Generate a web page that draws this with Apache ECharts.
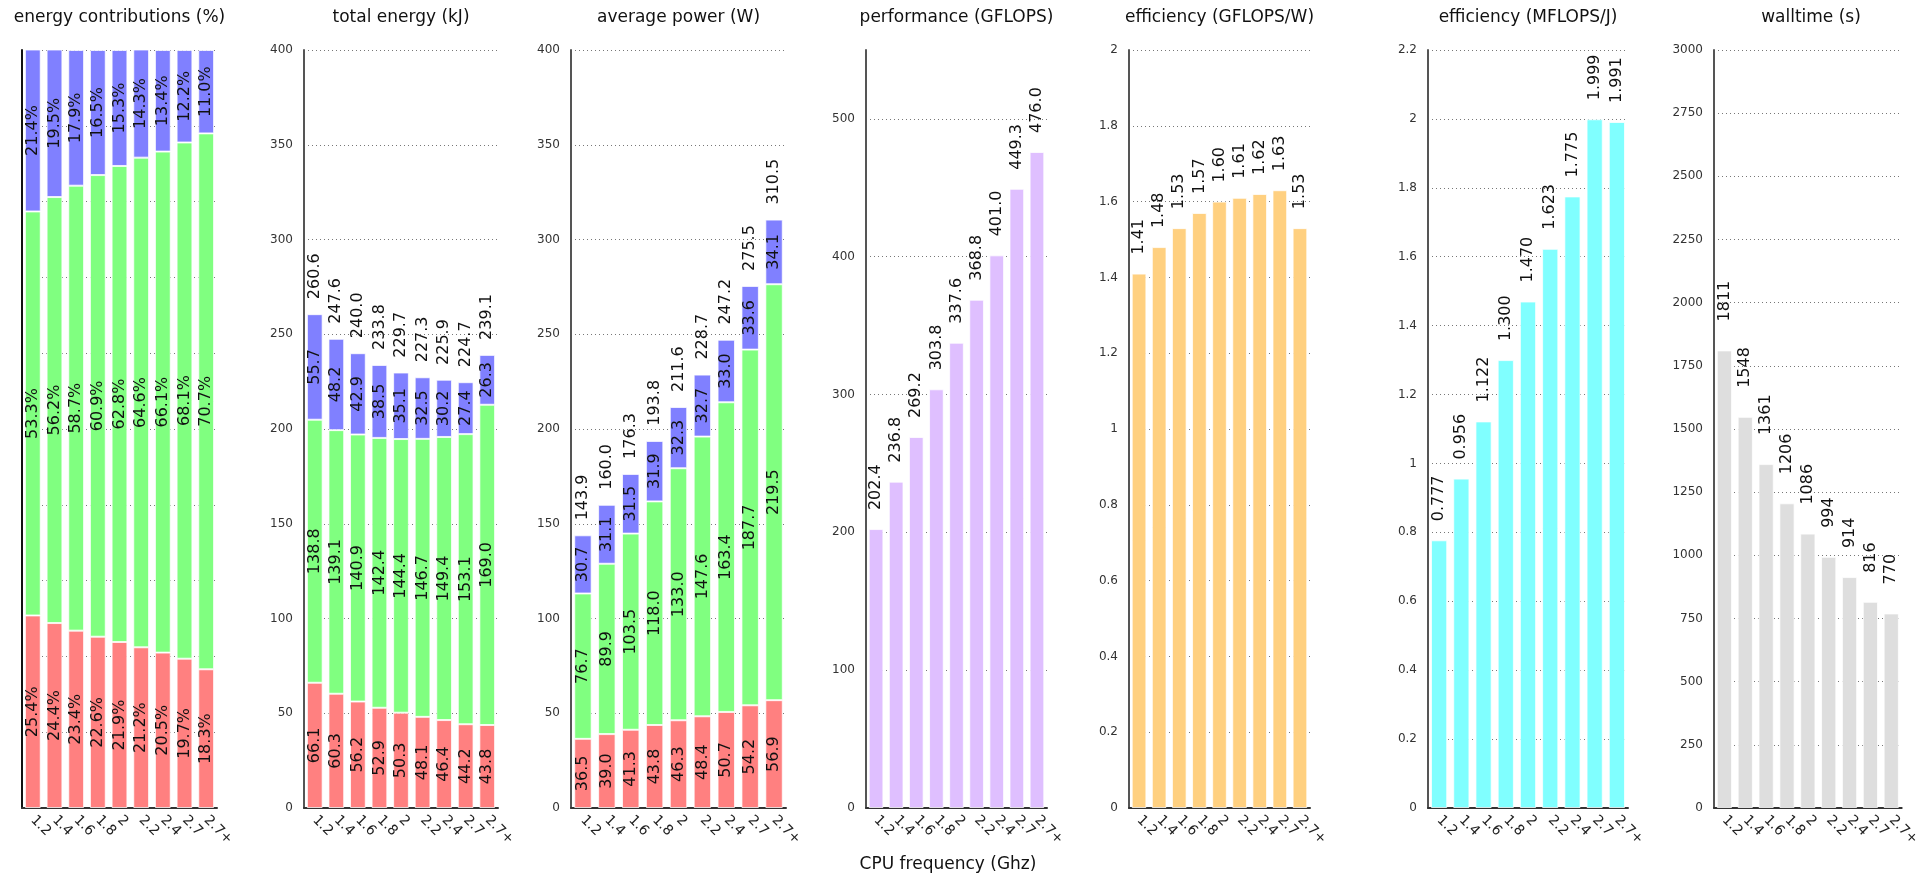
<!DOCTYPE html>
<html>
<head>
<meta charset="utf-8">
<title>CPU frequency sweep</title>
<script src="https://cdn.jsdelivr.net/npm/echarts@6/dist/echarts.min.js"></script>
<style>
    html, body { margin: 0; padding: 0; background: #fff; }
    #container { width: 1922px; height: 875px; }
</style>
</head>
<body>
<div id="container"></div>
<script>
// data
var freqs = ['1.2', '1.4', '1.6', '1.8', '2', '2.2', '2.4', '2.7', '2.7+'];

var pctLow = [25.4, 24.4, 23.4, 22.6, 21.9, 21.2, 20.5, 19.7, 18.3];
var pctMid = [53.3, 56.2, 58.7, 60.9, 62.8, 64.6, 66.1, 68.1, 70.7];
var pctTop = [21.4, 19.5, 17.9, 16.5, 15.3, 14.3, 13.4, 12.2, 11.0];

var energyLow = [66.1, 60.3, 56.2, 52.9, 50.3, 48.1, 46.4, 44.2, 43.8];
var energyMid = [138.8, 139.1, 140.9, 142.4, 144.4, 146.7, 149.4, 153.1, 169.0];
var energyTop = [55.7, 48.2, 42.9, 38.5, 35.1, 32.5, 30.2, 27.4, 26.3];
var energyTotal = [260.6, 247.6, 240.0, 233.8, 229.7, 227.3, 225.9, 224.7, 239.1];

var powerLow = [36.5, 39.0, 41.3, 43.8, 46.3, 48.4, 50.7, 54.2, 56.9];
var powerMid = [76.7, 89.9, 103.5, 118.0, 133.0, 147.6, 163.4, 187.7, 219.5];
var powerTop = [30.7, 31.1, 31.5, 31.9, 32.3, 32.7, 33.0, 33.6, 34.1];
var powerTotal = [143.9, 160.0, 176.3, 193.8, 211.6, 228.7, 247.2, 275.5, 310.5];

var gflops = [202.4, 236.8, 269.2, 303.8, 337.6, 368.8, 401.0, 449.3, 476.0];
var gflopsPerW = [1.41, 1.48, 1.53, 1.57, 1.60, 1.61, 1.62, 1.63, 1.53];
var mflopsPerJ = [0.777, 0.956, 1.122, 1.300, 1.470, 1.623, 1.775, 1.999, 1.991];
var walltime = [1811, 1548, 1361, 1206, 1086, 994, 914, 816, 770];

var titles = ['energy contributions (%)', 'total energy (kJ)', 'average power (W)',
    'performance (GFLOPS)', 'efficiency (GFLOPS/W)', 'efficiency (MFLOPS/J)', 'walltime (s)'];
var yMax = [100, 400, 400, 550, 2, 2.2, 3000];
var yStep = [10, 50, 50, 100, 0.2, 0.2, 250];

// layout: left / right edge of every plot area, gap of the value labels above bars
var panels = [[22, 217], [304, 498], [571, 786], [866, 1047], [1129, 1310], [1428, 1628], [1714, 1908]];
var topGap = [0, 15, 15, 19, 19, 19, 29];
var TOP = 50, BOTTOM = 808;
var FONT = 'DejaVu Sans';

var myChart = echarts.init(document.getElementById('container'));

var grids = [], xAxes = [], yAxes = [], titleList = [];
for (var i = 0; i < panels.length; i++) {
    var l = panels[i][0], r = panels[i][1];
    // the performance axis stops at 550 but has no tick there
    var hideMax = (i === 3);
    grids.push({left: l, top: TOP, width: r - l, height: BOTTOM - TOP});
    xAxes.push({
        type: 'category', gridIndex: i, data: freqs,
        axisLine: {lineStyle: {color: '#333', width: 2}},
        axisTick: {show: false},
        axisLabel: {rotate: -45, interval: 0, margin: 10, fontSize: 14, fontFamily: FONT, color: '#222'}
    });
    yAxes.push({
        type: 'value', gridIndex: i, min: 0, max: yMax[i], interval: yStep[i],
        axisLine: {show: true, lineStyle: {color: i === 0 ? '#111' : '#555', width: 2}},
        axisTick: {show: false},
        axisLabel: {
            show: i > 0, showMaxLabel: !hideMax, margin: 11, fontSize: 12, fontFamily: FONT, color: '#333',
            formatter: function (v) { return String(v); }
        },
        splitLine: {show: true, showMaxLine: !hideMax, lineStyle: {type: [1, 3], color: '#777', width: 1}}
    });
    titleList.push({
        text: titles[i], left: (l + r) / 2, top: 9, textAlign: 'center', padding: 0,
        textStyle: {fontFamily: FONT, fontSize: 17, fontWeight: 'normal', color: '#111'}
    });
}
titleList.push({
    text: 'CPU frequency (Ghz)', left: 948, top: 856, textAlign: 'center', padding: 0,
    textStyle: {fontFamily: FONT, fontSize: 17, fontWeight: 'normal', color: '#111'}
});

function fmt(dec, suffix) {
    return function (p) { return p.value.toFixed(dec) + (suffix || ''); };
}

function barSeries(idx, data, color, labelPos, formatter, stack) {
    var s = {
        type: 'bar', xAxisIndex: idx, yAxisIndex: idx, data: data,
        barCategoryGap: '27%', barGap: '-100%',
        itemStyle: {color: color, borderColor: 'rgba(255,255,255,0.75)', borderWidth: 1},
        label: {
            show: true, rotate: 90, fontSize: 16, fontFamily: FONT, color: '#111',
            formatter: formatter
        },
        silent: true
    };
    if (stack) s.stack = stack;
    if (labelPos === 'top') {
        s.label.position = 'top';
        s.label.align = 'left';
        s.label.verticalAlign = 'middle';
        s.label.distance = topGap[idx];
    } else {
        s.label.position = 'inside';
    }
    return s;
}

var RED = '#ff8080', GREEN = '#80ff80', BLUE = '#8080ff';
var NONE = 'rgba(0,0,0,0)';

var series = [
    barSeries(0, pctLow, RED, 'inside', fmt(1, '%'), 's0'),
    barSeries(0, pctMid, GREEN, 'inside', fmt(1, '%'), 's0'),
    barSeries(0, pctTop, BLUE, 'inside', fmt(1, '%'), 's0'),

    barSeries(1, energyLow, RED, 'inside', fmt(1), 's1'),
    barSeries(1, energyMid, GREEN, 'inside', fmt(1), 's1'),
    barSeries(1, energyTop, BLUE, 'inside', fmt(1), 's1'),
    barSeries(1, energyTotal, NONE, 'top', fmt(1)),

    barSeries(2, powerLow, RED, 'inside', fmt(1), 's2'),
    barSeries(2, powerMid, GREEN, 'inside', fmt(1), 's2'),
    barSeries(2, powerTop, BLUE, 'inside', fmt(1), 's2'),
    barSeries(2, powerTotal, NONE, 'top', fmt(1)),

    barSeries(3, gflops, '#dfbfff', 'top', fmt(1)),
    barSeries(4, gflopsPerW, '#ffd080', 'top', fmt(2)),
    barSeries(5, mflopsPerJ, '#80ffff', 'top', fmt(3)),
    barSeries(6, walltime, '#dedede', 'top', fmt(0))
];
// the invisible total bars carry no border
series[6].itemStyle.borderWidth = 0;
series[10].itemStyle.borderWidth = 0;

option = {
    animation: false,
    backgroundColor: '#fff',
    title: titleList,
    grid: grids,
    xAxis: xAxes,
    yAxis: yAxes,
    series: series
};
myChart.setOption(option);
</script>
</body>
</html>
